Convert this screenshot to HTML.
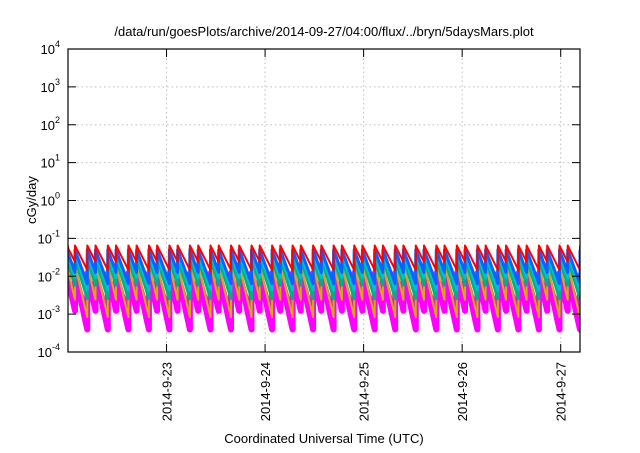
<!DOCTYPE html>
<html><head><meta charset="utf-8"><style>
body{margin:0;background:#fff}
svg text{font-family:"Liberation Sans",sans-serif;fill:#000}
</style></head><body>
<svg width="640" height="448" viewBox="0 0 640 448">
<g id="grid"></g>
<g id="series"></g>
<g id="axes"></g>
<text x="324" y="36" text-anchor="middle" font-size="13">/data/run/goesPlots/archive/2014-09-27/04:00/flux/../bryn/5daysMars.plot</text>
<text x="0" y="0" transform="translate(36,200) rotate(-90)" text-anchor="middle" font-size="13">cGy/day</text>
<text x="324" y="443" text-anchor="middle" font-size="13">Coordinated Universal Time (UTC)</text>
</svg>
<script>
// data
const peakHours=[-0.3,1.7,4.7,6.7,9.7,11.7,14.7,16.7,19.7,21.7,24.7,26.7,29.7,31.7,34.7,36.7,39.7,41.7,44.7,46.7,49.7,51.7,54.7,56.7,59.7,61.7,64.7,66.7,69.7,71.7,74.7,76.7,79.7,81.7,84.7,86.7,89.7,91.7,94.7,96.7,99.7,101.7,104.7,106.7,109.7,111.7,114.7,116.7,119.7,121.7,124.7];
const seriesNames=["magenta","purple","orange","teal","cyan","blue","red"];
const seriesColors=["#ff00ff","#b040a0","#e0a020","#00b080","#00c0d0","#1060ff","#ff0000"];
const seriesPeaks=[0.012,0.016,0.02,0.03,0.04,0.05,0.065];
const seriesTroughs=[0.00004,0.00016,0.0001,0.0005,0.001,0.0016,0.0054];
const seriesWidths=[6,3,2,3,3,3,2];
const yTickExp=[-4,-3,-2,-1,0,1,2,3,4];
const xTickLabels=["2014-9-23","2014-9-24","2014-9-25","2014-9-26","2014-9-27"];
const xTickHours=[24,48,72,96,120];
const period=5;
// axes
const L=68,R=580,T=49,B=352,H0=0,H1=124.7;
const X=h=>L+(h-H0)/(H1-H0)*(R-L);
const Y=v=>B-(Math.log10(v)+4)/8*(B-T);
const NS="http://www.w3.org/2000/svg";
function mk(t,p,a){const e=document.createElementNS(NS,t);for(const k in a)e.setAttribute(k,a[k]);p.appendChild(e);return e;}
const grid=document.getElementById('grid'),axes=document.getElementById('axes'),sg=document.getElementById('series');
yTickExp.forEach(e=>{const y=Y(Math.pow(10,e));
 if(e>-4&&e<4){const g=mk('line',grid,{x1:L,x2:R,y1:y,y2:y,stroke:'#bbb','stroke-dasharray':'1.5,3','stroke-width':1});
 }
 const t=mk('line',axes,{x1:L,x2:L+8,y1:y,y2:y,stroke:'#000'});
 const t2=mk('line',axes,{x1:R,x2:R-8,y1:y,y2:y,stroke:'#000'});
 const tx=mk('text',axes,{x:L-8,y:y+5,'text-anchor':'end','font-size':13});
 
 tx.appendChild(document.createTextNode('10'));const s=mk('tspan',tx,{dy:-7,'font-size':9});s.textContent=String(e);
});
xTickHours.forEach((h,i)=>{const x=X(h);
 const g=mk('line',grid,{x1:x,x2:x,y1:T,y2:B,stroke:'#bbb','stroke-dasharray':'1.5,3'});
 const t=mk('line',axes,{x1:x,x2:x,y1:B,y2:B-8,stroke:'#000'});
 const t2=mk('line',axes,{x1:x,x2:x,y1:T,y2:T+8,stroke:'#000'});
 const tx=mk('text',axes,{x:0,y:0,transform:`translate(${x+5},${B+10}) rotate(-90)`,'text-anchor':'end','font-size':13});
 tx.textContent=xTickLabels[i];
});
const fr=mk('rect',axes,{x:L,y:T,width:R-L,height:B-T,fill:'none',stroke:'#000','stroke-width':1.2});

seriesNames.forEach((n,si)=>{
 const lp=Math.log10(seriesPeaks[si]),lt=Math.log10(seriesTroughs[si]);let d='';
 for(let i=0;i<peakHours.length;i++){const tp=peakHours[i];const tn=i+1<peakHours.length?peakHours[i+1]:H1;
  const prevEnd=i>0?lp+(lt-lp)*(tp-peakHours[i-1])/period:lp+(lt-lp)*0.4;
  d+=(i===0?'M':'L')+Math.max(X(tp),L).toFixed(1)+','+Y(Math.pow(10,i===0?lp:prevEnd)).toFixed(1);
  if(i>0)d+='L'+X(tp).toFixed(1)+','+Y(Math.pow(10,lp)).toFixed(1);
  const steps=6;for(let k=1;k<=steps;k++){const t=tp+(tn-tp)*k/steps;if(t>H1)break;
   d+='L'+X(t).toFixed(1)+','+Y(Math.pow(10,lp+(lt-lp)*(t-tp)/period)).toFixed(1);}
 }
 const p=mk('path',sg,{d:d,fill:'none',stroke:seriesColors[si],'stroke-width':seriesWidths[si],'stroke-linejoin':'round','clip-path':'url(#clip)'});
 
});
const defs=mk('defs',document.querySelector('svg'),{});const cp=mk('clipPath',defs,{id:'clip'});mk('rect',cp,{x:L,y:T,width:R-L,height:B-T});
</script>
</body></html>
